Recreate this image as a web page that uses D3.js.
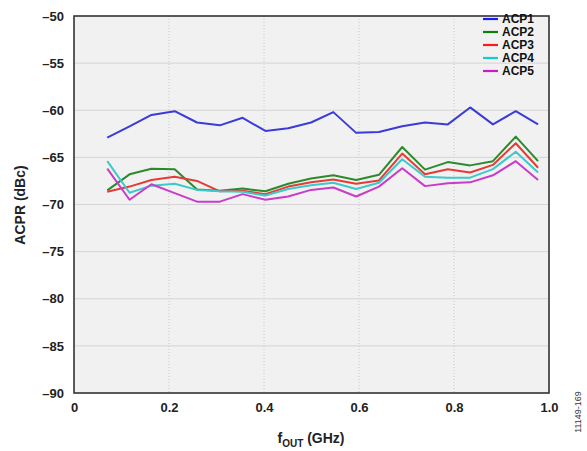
<!DOCTYPE html>
<html><head><meta charset="utf-8">
<script src="https://cdn.jsdelivr.net/npm/d3@7"></script>
<style>
html,body{margin:0;padding:0;background:#fff;}
svg{display:block;font-family:"Liberation Sans",Arial,sans-serif;}
</style></head>
<body><svg id="c" width="587" height="451"></svg>
<script>
const freq = [0.070,0.117,0.163,0.212,0.259,0.307,0.355,0.403,0.451,0.499,0.546,0.594,0.642,0.691,0.739,0.787,0.834,0.882,0.930,0.977];
const acp1 = [-62.9,-61.7,-60.5,-60.1,-61.3,-61.6,-60.8,-62.2,-61.9,-61.3,-60.2,-62.4,-62.3,-61.7,-61.3,-61.5,-59.7,-61.5,-60.1,-61.5];
const acp2 = [-68.5,-66.8,-66.2,-66.25,-68.4,-68.55,-68.3,-68.6,-67.8,-67.25,-66.9,-67.4,-66.85,-63.9,-66.3,-65.5,-65.85,-65.4,-62.8,-65.4];
const acp3 = [-68.65,-68.1,-67.4,-67.05,-67.5,-68.6,-68.55,-68.9,-68.1,-67.65,-67.35,-67.8,-67.45,-64.6,-66.8,-66.25,-66.6,-65.8,-63.5,-66.1];
const acp4 = [-65.4,-68.75,-68.0,-67.8,-68.45,-68.6,-68.65,-69.05,-68.35,-67.95,-67.7,-68.35,-67.7,-65.2,-67.05,-67.15,-67.15,-66.25,-64.4,-66.6];
const acp5 = [-66.2,-69.5,-67.85,-68.8,-69.7,-69.7,-68.9,-69.5,-69.15,-68.45,-68.2,-69.15,-68.1,-66.15,-68.05,-67.75,-67.65,-66.9,-65.4,-67.4];
const seriesNames = ["ACP1","ACP2","ACP3","ACP4","ACP5"];
const seriesColors = ["#3b3bd8","#2b8a2b","#e53b36","#3cc9c9","#c83cc8"];
const legendColors = ["#1a1aff","#0a800a","#ff1a1a","#19cccc","#cc19cc"];
const xTicks = [0,0.2,0.4,0.6,0.8,1.0];
const xTickLabels = ["0","0.2","0.4","0.6","0.8","1.0"];
const yTicks = [-90,-85,-80,-75,-70,-65,-60,-55,-50];

const series = [acp1,acp2,acp3,acp4,acp5];
const L=74,R=549,T=16,B=393;
const svg = d3.select("#c");
const x = d3.scaleLinear().domain([0,1]).range([L,R]);
const y = d3.scaleLinear().domain([-90,-50]).range([B,T]);

svg.append("rect").attr("x",L).attr("y",T).attr("width",R-L).attr("height",B-T).attr("fill","#f1f1f1");

// gridlines
const g = svg.append("g");
g.selectAll(".vg").data(xTicks.slice(1,-1)).enter().append("line")
 .attr("x1",d=>x(d)).attr("x2",d=>x(d)).attr("y1",T).attr("y2",B)
 .attr("stroke","#c8c8c8").attr("stroke-width",1).attr("stroke-dasharray","1,2");
g.selectAll(".hg").data(yTicks.slice(1,-1)).enter().append("line")
 .attr("x1",L).attr("x2",R).attr("y1",d=>y(d)).attr("y2",d=>y(d))
 .attr("stroke","#d4d4d4").attr("stroke-width",1);

// lines
const line = d3.line().x((d,i)=>x(freq[i])).y(d=>y(d));
series.forEach((s,k)=>{
  svg.append("path").datum(s).attr("d",line).attr("fill","none")
   .attr("stroke",seriesColors[k]).attr("stroke-width",2).attr("stroke-linejoin","round");
});

// frame
svg.append("rect").attr("x",L).attr("y",T).attr("width",R-L).attr("height",B-T)
 .attr("fill","none").attr("stroke","#333").attr("stroke-width",1.6);

// axes labels
const fmt = v=> v<0 ? "\u2013"+Math.abs(v) : String(v);
const yAxis = d3.axisLeft(y).tickValues(yTicks).tickSize(0).tickPadding(10).tickFormat(fmt);
const ya = svg.append("g").attr("transform",`translate(${L},0)`).call(yAxis);
ya.select(".domain").remove();
ya.selectAll("text").attr("font-size",13).attr("font-weight","bold").attr("fill","#222")
  .attr("font-family","'Liberation Sans',Arial,sans-serif");

const xAxis = d3.axisBottom(x).tickValues(xTicks).tickSize(0).tickPadding(10).tickFormat((d,i)=>xTickLabels[i]);
const xa = svg.append("g").attr("transform",`translate(0,${B})`).call(xAxis);
xa.select(".domain").remove();
xa.selectAll("text").attr("font-size",13).attr("font-weight","bold").attr("fill","#222")
  .attr("font-family","'Liberation Sans',Arial,sans-serif");

// axis titles
const xt = svg.append("text").attr("x",311).attr("y",443).attr("text-anchor","middle")
 .attr("font-size",14).attr("font-weight","bold").attr("fill","#222");
xt.append("tspan").text("f");
xt.append("tspan").attr("font-size",10).attr("dy",4).text("OUT");
xt.append("tspan").attr("dy",-4).text(" (GHz)");

svg.append("text").attr("transform","translate(25,205) rotate(-90)").attr("text-anchor","middle")
 .attr("font-size",14).attr("font-weight","bold").attr("fill","#222").text("ACPR (dBc)");

svg.append("text").attr("transform","translate(581,412) rotate(-90)").attr("text-anchor","middle")
 .attr("font-size",9).attr("fill","#333").text("11149-169");

// legend
const lg = svg.append("g");
seriesNames.forEach((n,k)=>{
  const yy = 19 + k*13;
  lg.append("line").attr("x1",483).attr("x2",498).attr("y1",yy).attr("y2",yy)
    .attr("stroke",legendColors[k]).attr("stroke-width",2.2);
  lg.append("text").attr("x",502).attr("y",yy+4.3).attr("font-size",12).attr("font-weight","bold")
    .attr("fill","#111").text(n);
});
</script></body></html>
